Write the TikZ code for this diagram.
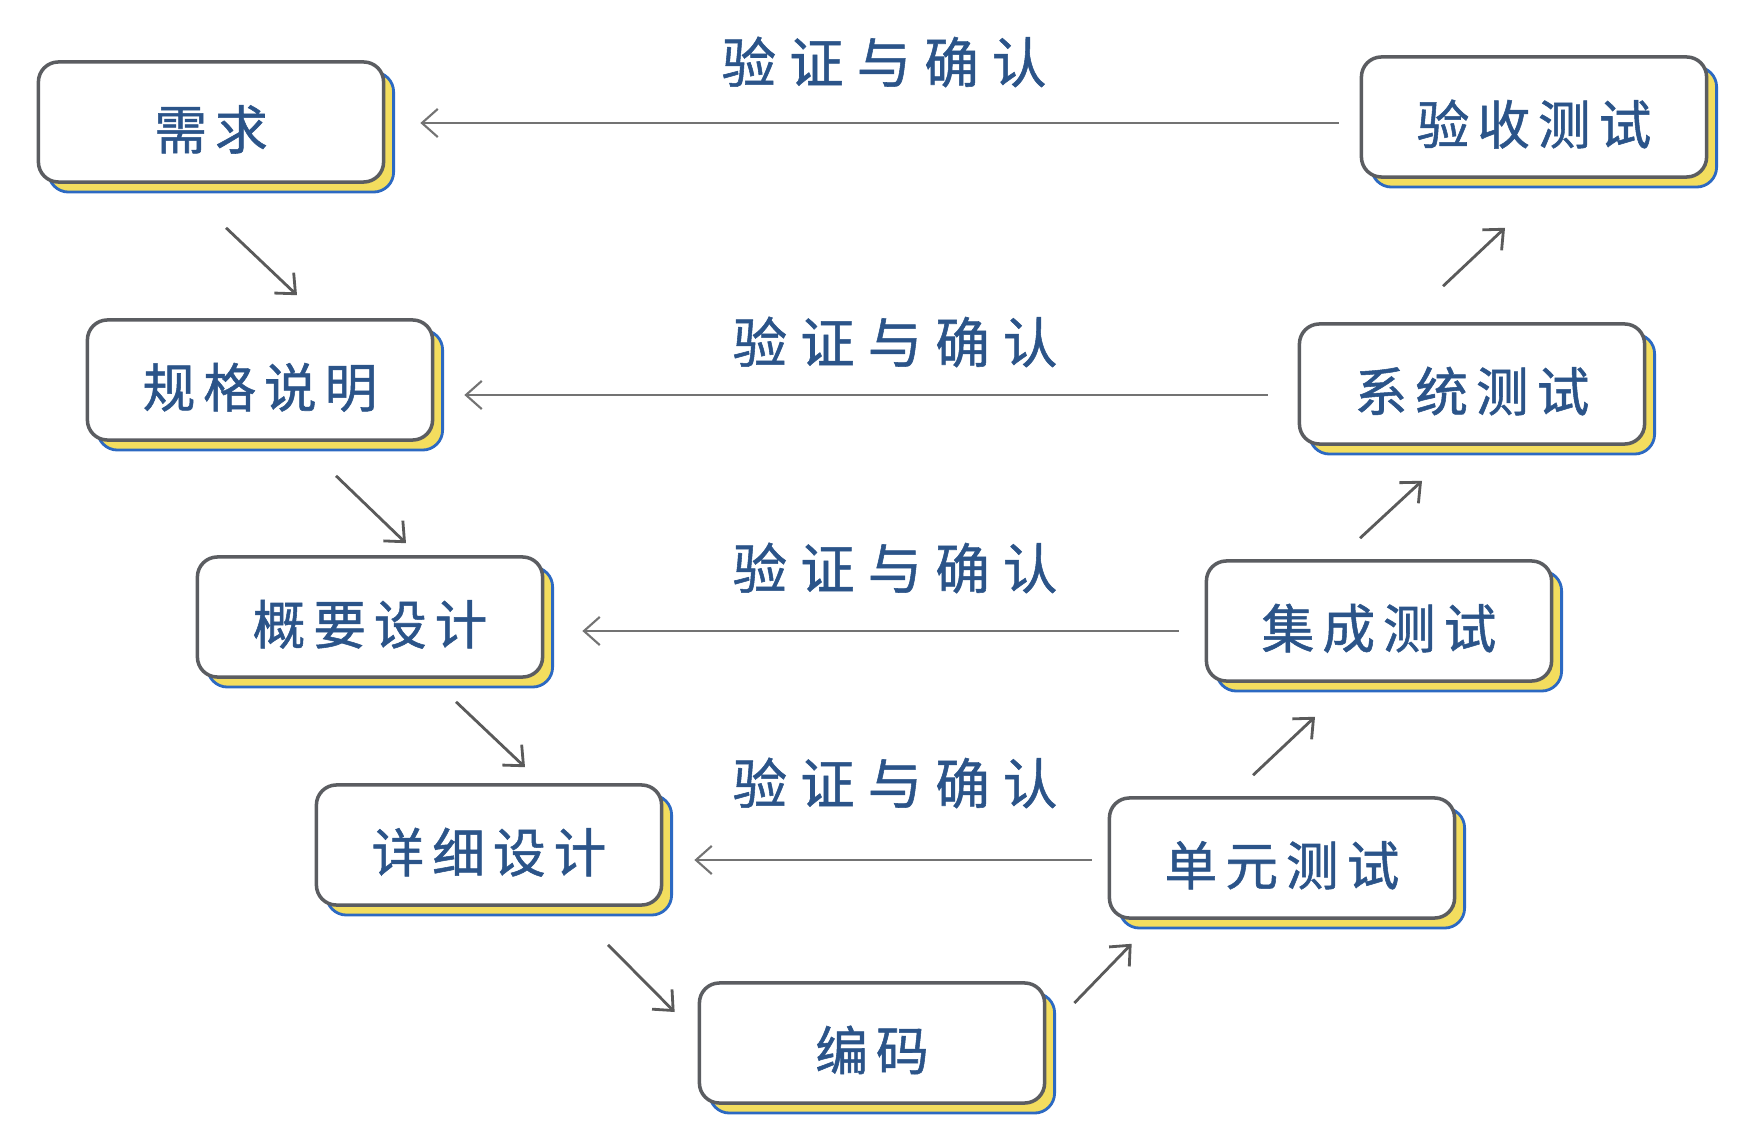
\documentclass[tikz,border=0pt]{standalone}
\usepackage{fontspec}
\usepackage{xcolor}
\usepackage{tikz}
\usetikzlibrary{arrows.meta, calc, shadows}

\newfontfamily\cjkfont[LetterSpace=15, FakeBold=1]{Noto Sans CJK SC}
\newfontfamily\cjkwide[LetterSpace=24, FakeBold=1]{Noto Sans CJK SC}

\definecolor{inkblue}{HTML}{2B5489}
\definecolor{boxgray}{HTML}{5B5D61}
\definecolor{shadowyellow}{HTML}{F3DD5E}
\definecolor{shadowblue}{HTML}{2C69C2}
\definecolor{pencil}{HTML}{5A5A5A}

\begin{document}
\begin{tikzpicture}[ x = 0.01cm
                     , y = -0.01cm
                     , font = \cjkfont\fontsize{15}{18}\selectfont
                     , >={Straight Barb[length=4.5pt, width=8pt]}
                     , stage/.style = { rectangle
                                      , rounded corners = 0.2cm
                                      , draw = boxgray
                                      , line width = 1pt
                                      , fill = white
                                      , text = inkblue
                                      , text height = 16.5pt
                                      , text depth = 1pt
                                      , minimum width = 3.45cm
                                      , minimum height = 1.2cm
                                      , copy shadow = {shadow xshift=0.1cm, shadow yshift=-0.1cm, fill=shadowyellow, draw=shadowblue, line width=0.8pt} }
                     , check/.style = { text = inkblue
                                      , font = \cjkwide\fontsize{15.5}{18}\selectfont }
                     , flow/.style = { ->, draw = pencil, line width = 0.8pt }
                     , back/.style = { ->, draw = pencil!85, line width = 0.6pt }
                     ]

  \useasboundingbox (0,0) rectangle (1758,1140);

  % left leg
  \node (req) [stage] at (211,122) {需求};
  \node (spec) [stage] at (260,380) {规格说明};
  \node (arch) [stage] at (370,617) {概要设计};
  \node (detail) [stage] at (489,845) {详细设计};
  \node (code) [stage] at (872,1043) {编码};

  % right leg
  \node (unit) [stage] at (1282,858) {单元测试};
  \node (integ) [stage] at (1379,621) {集成测试};
  \node (sys) [stage] at (1472,384) {系统测试};
  \node (accept) [stage] at (1534,117) {验收测试};

  % V&V labels
  \node (vv1) [check] at (884,62) {验证与确认};
  \node (vv2) [check] at (895,342) {验证与确认};
  \node (vv3) [check] at (895,568) {验证与确认};
  \node (vv4) [check] at (895,783) {验证与确认};

  \draw[flow] ($(req.south)+(15,44)$) -- ($(spec.north)+(37,-23)$);
  \draw[flow] ($(spec.south)+(76,34)$) -- ($(arch.north)+(36,-12)$);
  \draw[flow] ($(arch.south)+(86,23)$) -- ($(detail.north)+(36,-16)$);
  \draw[flow] ($(detail.south)+(119,38)$) -- ($(code.west)+(-23,-31)$);
  \draw[flow] ($(code.east)+(28,-40)$) -- ($(unit.south west)+(24,24)$);
  \draw[flow] ($(unit.north)+(-29,-21)$) -- ($(integ.south)+(-64,34)$);
  \draw[flow] ($(integ.north)+(-19,-21)$) -- ($(sys.south)+(-50,35)$);
  \draw[flow] ($(sys.north)+(-29,-36)$) -- ($(accept.south)+(-29,49)$);

  \draw[back] ($(accept.west)+(-21,6)$) -- ($(req.east)+(35,1)$);
  \draw[back] ($(sys.west)+(-30,11)$) -- ($(spec.east)+(30,15)$);
  \draw[back] ($(integ.west)+(-26,10)$) -- ($(arch.east)+(38,14)$);
  \draw[back] ($(unit.west)+(-16,2)$) -- ($(detail.east)+(31,15)$);

\end{tikzpicture}
\end{document}
